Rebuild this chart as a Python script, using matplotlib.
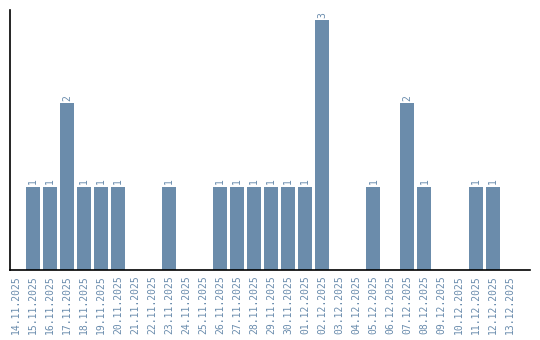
import matplotlib
matplotlib.use("Agg")
import matplotlib.pyplot as plt
import numpy as np

dates = ['14.11.2025', '15.11.2025', '16.11.2025', '17.11.2025', '18.11.2025',
         '19.11.2025', '20.11.2025', '21.11.2025', '22.11.2025', '23.11.2025',
         '24.11.2025', '25.11.2025', '26.11.2025', '27.11.2025', '28.11.2025',
         '29.11.2025', '30.11.2025', '01.12.2025', '02.12.2025', '03.12.2025',
         '04.12.2025', '05.12.2025', '06.12.2025', '07.12.2025', '08.12.2025',
         '09.12.2025', '10.12.2025', '11.12.2025', '12.12.2025', '13.12.2025']
counts = [0, 1, 1, 2, 1, 1, 1, 0, 0, 1, 0, 0, 1, 1, 1, 1, 1, 1, 3, 0,
          0, 1, 0, 2, 1, 0, 0, 1, 1, 0]

bar_color = '#6b8cab'
text_color = '#6a8cad'

fig = plt.figure(figsize=(5.4, 3.4), dpi=100)
ax = fig.add_axes([10 / 540, 70 / 340, 520 / 540, 260 / 340])

x = np.arange(len(dates))
ax.bar(x, counts, width=0.82, color=bar_color)

# value labels above each non-empty bar
for xi, v in zip(x, counts):
    if v > 0:
        ax.text(xi, v + 0.03, str(v), rotation=90, ha='center', va='bottom',
                fontsize=7, color=text_color, family='DejaVu Sans Mono')

ax.set_xlim(-0.35, 30.2)
ax.set_ylim(0, 3.12)
ax.set_xticks(x)
ax.set_xticklabels(dates, rotation=90, fontsize=7, color=text_color,
                   family='DejaVu Sans Mono')
ax.tick_params(axis='x', length=0, pad=4)
ax.set_yticks([])

ax.spines['top'].set_visible(False)
ax.spines['right'].set_visible(False)
ax.spines['left'].set_linewidth(1.2)
ax.spines['bottom'].set_linewidth(1.2)

fig.savefig('out.png', dpi=100)
